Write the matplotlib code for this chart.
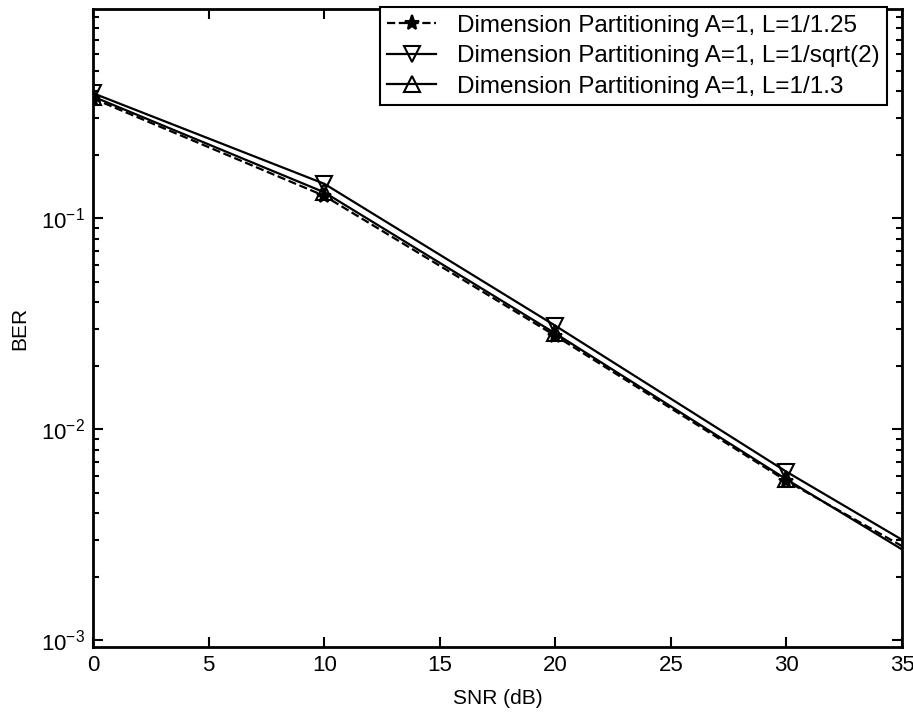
import numpy as np
import matplotlib
matplotlib.use('Agg')
import matplotlib.pyplot as plt
from matplotlib.ticker import LogLocator, NullFormatter

plt.rcParams['font.family'] = ['Liberation Sans', 'DejaVu Sans']
plt.rcParams['mathtext.fontset'] = 'custom'
plt.rcParams['mathtext.rm'] = 'Liberation Sans'
plt.rcParams['mathtext.default'] = 'regular'

# BER vs SNR, dimension partitioning with A=1
snr_db = [0, 10, 20, 30, 35]
ber_l125 = [0.370, 0.128, 0.0278, 0.0057, 0.0028]
ber_lsqrt2 = [0.392, 0.146, 0.0310, 0.0063, 0.0030]
ber_l13 = [0.378, 0.133, 0.0285, 0.0058, 0.0027]

labels = [
    'Dimension Partitioning A=1, L=1/1.25',
    'Dimension Partitioning A=1, L=1/sqrt(2)',
    'Dimension Partitioning A=1, L=1/1.3',
]

fig = plt.figure(figsize=(9.13, 7.15), dpi=100)
ax = fig.add_axes([0.102, 0.095, 0.886, 0.892])

mk = dict(markevery=[0, 1, 2, 3], markersize=11, markeredgewidth=1.5)
ax.semilogy(snr_db, ber_l125, 'k--', marker='*', lw=1.6, label=labels[0], **mk)
ax.semilogy(snr_db, ber_lsqrt2, 'k-', marker='v', mfc='none', lw=1.6, label=labels[1], **mk)
ax.semilogy(snr_db, ber_l13, 'k-', marker='^', mfc='none', lw=1.6, label=labels[2], **mk)

ax.set_xlim(0, 35)
ax.set_ylim(9.3e-4, 0.98)
ax.set_xticks(np.arange(0, 36, 5))
ax.yaxis.set_major_locator(LogLocator(base=10, numticks=10))
ax.yaxis.set_minor_locator(LogLocator(base=10, subs=np.arange(2, 10), numticks=10))
ax.yaxis.set_minor_formatter(NullFormatter())

ax.tick_params(which='both', direction='in', top=True, right=True, width=1.5)
ax.tick_params(which='major', length=7, labelsize=16, pad=6)
ax.tick_params(which='minor', length=4)
for s in ax.spines.values():
    s.set_linewidth(2)

ax.set_xlabel('SNR (dB)', fontsize=15, labelpad=9)
ax.set_ylabel('BER', fontsize=15, labelpad=8)

leg = ax.legend(loc='upper right', bbox_to_anchor=(0.981, 1.003), fontsize=17.5,
                handlelength=2.0, handletextpad=0.85, borderpad=0.3, labelspacing=0.35,
                fancybox=False, framealpha=1, edgecolor='black', borderaxespad=0.0)
leg.get_frame().set_linewidth(1.5)

fig.savefig('out.png', dpi=100)
